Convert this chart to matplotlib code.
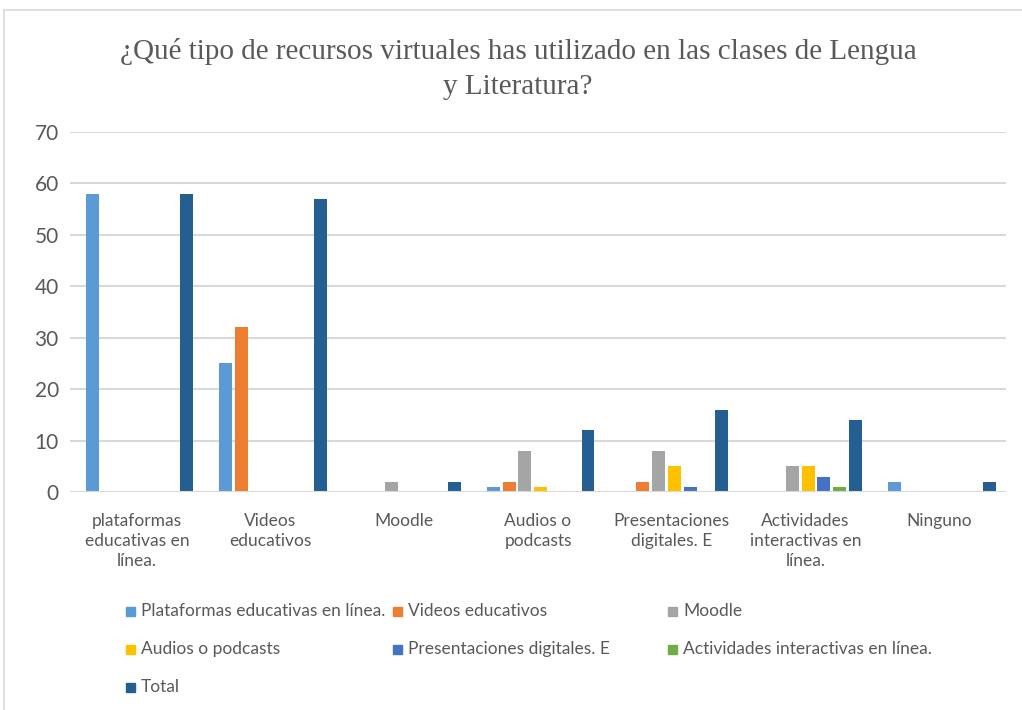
import matplotlib
matplotlib.use('Agg')
import matplotlib.pyplot as plt
import numpy as np
from matplotlib.patches import Rectangle
from matplotlib.lines import Line2D

categories = ['plataformas\neducativas en\nlínea.', 'Videos\neducativos', 'Moodle',
              'Audios o\npodcasts', 'Presentaciones\ndigitales. E',
              'Actividades\ninteractivas en\nlínea.', 'Ninguno']
series_names = ['Plataformas educativas en línea.', 'Videos educativos', 'Moodle',
                'Audios o podcasts', 'Presentaciones digitales. E',
                'Actividades interactivas en línea.', 'Total']
plataformas = [58, 25, 0, 1, 0, 0, 2]
videos = [0, 32, 0, 2, 2, 0, 0]
moodle = [0, 0, 2, 8, 8, 5, 0]
audios = [0, 0, 0, 1, 5, 5, 0]
presentaciones = [0, 0, 0, 0, 1, 3, 0]
actividades = [0, 0, 0, 0, 0, 1, 0]
total = [58, 57, 2, 12, 16, 14, 2]
y_ticks = [0, 10, 20, 30, 40, 50, 60, 70]

colors = ['#5B9BD5', '#ED7D31', '#A5A5A5', '#FFC000', '#4472C4', '#70AD47', '#255E91']
series = [plataformas, videos, moodle, audios, presentaciones, actividades, total]

W, H = 1022, 710
fig = plt.figure(figsize=(W / 100, H / 100), dpi=100)
label_font = ['Lato', 'DejaVu Sans']
grey = '#595959'

# outer chart border (only top and left fall inside the picture)
fig.add_artist(Line2D([4 / W, 4 / W], [0, 1 - 10 / H], color='#D9D9D9', lw=1.2))
fig.add_artist(Line2D([4 / W, 1], [1 - 10 / H, 1 - 10 / H], color='#D9D9D9', lw=1.2))

ax = fig.add_axes([70 / W, 218 / H, 936 / W, 360 / H])
x = np.arange(len(categories))
slot = 0.118
width = 0.097
for j, (vals, c) in enumerate(zip(series, colors)):
    ax.bar(x + (j - 3) * slot + 0.02, vals, width=width, color=c, zorder=3, label=series_names[j])

ax.set_xlim(-0.5, len(categories) - 0.5)
ax.set_ylim(0, 70)
ax.set_yticks(y_ticks)
ax.yaxis.grid(True, color='#D9D9D9', lw=1.5, zorder=0)
for s in ax.spines.values():
    s.set_visible(False)
ax.axhline(0, color='#D9D9D9', lw=1.5, zorder=4)
ax.tick_params(length=0)
ax.tick_params(axis='y', pad=8, labelsize=15, labelcolor=grey)
ax.set_xticks(x)
ax.set_xticklabels(categories, fontsize=12.5, color=grey, family=label_font, linespacing=1.32)
ax.tick_params(axis='x', pad=15)
for lab in ax.get_yticklabels():
    lab.set_family(label_font)

fig.text(518 / W, 1 - 69 / H, '¿Qué tipo de recursos virtuales has utilizado en las clases de Lengua\ny Literatura?',
         ha='center', va='center', fontsize=21, color=grey, family='Liberation Serif', linespacing=1.42)

# legend, laid out row by row like the original
col_x = [130, 397, 672]
row_y = [611, 649, 687]
for k, name in enumerate(series_names):
    cx = col_x[k % 3]
    cy = row_y[k // 3]
    fig.add_artist(Rectangle(((cx - 4.5) / W, 1 - (cy + 4.5) / H), 9 / W, 9 / H,
                             transform=fig.transFigure, color=colors[k]))
    fig.text((cx + 11) / W, 1 - cy / H, name, ha='left', va='center', fontsize=12.5,
             color=grey, family=label_font)

fig.savefig('out.png', dpi=100)
